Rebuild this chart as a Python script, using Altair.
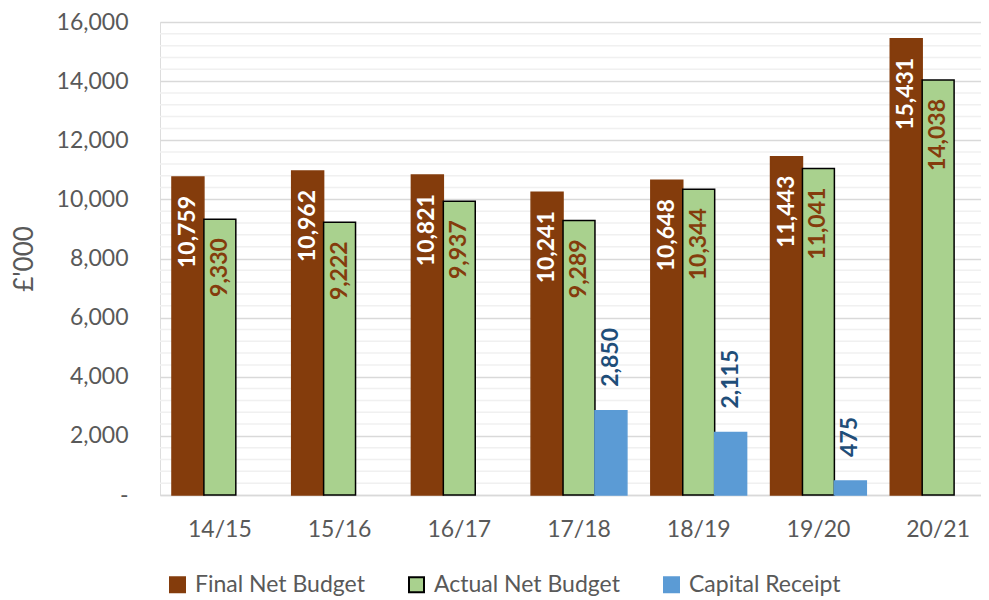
import altair as alt
import pandas as pd

categories = ["14/15", "15/16", "16/17", "17/18", "18/19", "19/20", "20/21"]
series = ["Final Net Budget", "Actual Net Budget", "Capital Receipt"]
final_net = [10759, 10962, 10821, 10241, 10648, 11443, 15431]
actual_net = [9330, 9222, 9937, 9289, 10344, 11041, 14038]
capital = [None, None, None, 2850, 2115, 475, None]
major_ticks = list(range(0, 16001, 2000))
minor_ticks = [v for v in range(0, 16001, 400) if v % 2000 != 0]

colors = ["#843C0C", "#A9D18E", "#5B9BD5"]
strokes = ["#843C0C", "#000000", "#5B9BD5"]
FONT = "Lato"
GRAY = "#595959"

rows = []
for i, c in enumerate(categories):
    for s, vals in zip(series, [final_net, actual_net, capital]):
        if vals[i] is not None:
            rows.append({"cat": c, "series": s, "value": vals[i]})
df = pd.DataFrame(rows)
minor_df = pd.DataFrame({"v": minor_ticks})

x_enc = alt.X("cat:N", sort=categories,
              scale=alt.Scale(domain=categories, range=[0, 838], paddingInner=0.2, paddingOuter=0.1),
              axis=alt.Axis(title=None, labelFontSize=23, labelColor=GRAY, labelFont=FONT,
                            ticks=False, labelPadding=23, domainColor="#D9D9D9", domainWidth=1.5,
                            labelAngle=0))
xo_enc = alt.XOffset("series:N", scale=alt.Scale(domain=series, paddingInner=0, paddingOuter=0))
y_scale = alt.Scale(domain=[0, 16000], nice=False)

minor = alt.Chart(minor_df).mark_rule(color="#F0F0F0", strokeWidth=1.5).encode(
    y=alt.Y("v:Q", scale=y_scale)
)

bars = alt.Chart(df).mark_bar(strokeWidth=1.5).encode(
    x=x_enc,
    xOffset=xo_enc,
    y=alt.Y("value:Q", scale=y_scale,
            axis=alt.Axis(values=major_ticks, title="£'000", titleFontSize=26, titleFont=FONT,
                          titleFontWeight="normal", titleColor=GRAY, titlePadding=19,
                          labelFontSize=23, labelFont=FONT, labelColor=GRAY, labelPadding=32,
                          domain=False, ticks=False, gridColor="#D9D9D9", gridWidth=1.5,
                          labelExpr="datum.value == 0 ? '-\u00a0\u00a0' : format(datum.value, ',')")),
    fill=alt.Fill("series:N", scale=alt.Scale(domain=series, range=colors),
                  legend=alt.Legend(title=None, orient="none", direction="horizontal",
                                    legendX=6, legendY=551, symbolType="square", symbolSize=225,
                                    symbolStrokeWidth=2, labelFontSize=23, labelFont=FONT,
                                    labelColor=GRAY, columnPadding=40, labelOffset=6,
                                    labelLimit=0, symbolOpacity=1)),
    stroke=alt.Stroke("series:N", scale=alt.Scale(domain=series, range=strokes), legend=None),
)

def labels(name, color, align, dx):
    return alt.Chart(df).transform_filter(alt.datum.series == name).mark_text(
        angle=270, align=align, baseline="middle", dx=dx, fontSize=23, fontWeight="bold",
        font=FONT, color=color
    ).encode(
        x=x_enc, xOffset=xo_enc,
        y=alt.Y("value:Q", scale=y_scale),
        text=alt.Text("value:Q", format=","),
    )

chart = alt.layer(
    minor, bars,
    labels("Final Net Budget", "#FFFFFF", "right", -19),
    labels("Actual Net Budget", "#843C0C", "right", -19),
    labels("Capital Receipt", "#1F4E79", "left", 24),
).properties(
    width=821, height=473,
    autosize=alt.AutoSizeParams(type="none"),
    padding={"left": 152, "top": 14, "right": 0, "bottom": 105},
).configure_view(stroke=None).configure(background="white")

chart.save("out.html", embed_options={"renderer": "svg", "actions": False})
